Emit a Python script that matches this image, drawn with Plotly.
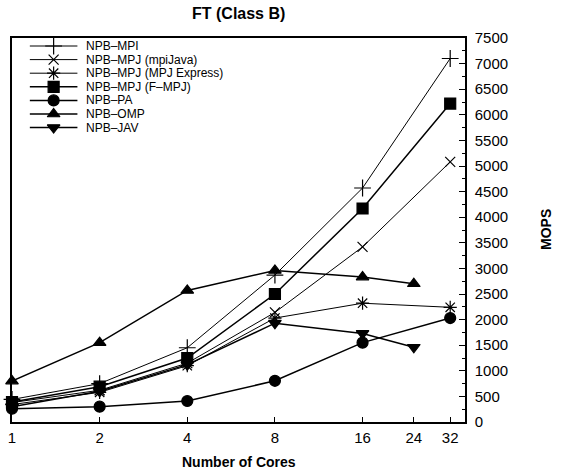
import plotly.graph_objects as go

# Core counts and MOPS per implementation (FT, Class B)
cores = [1, 2, 4, 8, 16, 32]
cores_omp_jav = [1, 2, 4, 8, 16, 24]

mops_mpi = [440, 750, 1450, 2870, 4570, 7100]
mops_mpijava = [380, 620, 1150, 2140, 3420, 5080]
mops_mpjexpress = [340, 580, 1100, 2030, 2320, 2240]
mops_fmpj = [390, 690, 1250, 2500, 4170, 6220]
mops_pa = [260, 300, 410, 805, 1550, 2030]
mops_omp = [800, 1550, 2570, 2960, 2830, 2700]
mops_jav = [300, 600, 1120, 1930, 1730, 1460]

x_ticks = [1, 2, 4, 8, 16, 24, 32]
y_ticks = list(range(0, 7501, 500))

FONT = "Liberation Sans, Arial, Helvetica, sans-serif"

series = [
    ("NPB\u2013MPI", cores, mops_mpi, "cross-thin", 12, 1.0),
    ("NPB\u2013MPJ (mpiJava)", cores, mops_mpijava, "x-thin", 10, 1.0),
    ("NPB\u2013MPJ (MPJ Express)", cores, mops_mpjexpress, "asterisk", 11, 1.0),
    ("NPB\u2013MPJ (F\u2013MPJ)", cores, mops_fmpj, "square", 11, 1.5),
    ("NPB\u2013PA", cores, mops_pa, "circle", 11, 1.5),
    ("NPB\u2013OMP", cores_omp_jav, mops_omp, "triangle-up", 11, 1.5),
    ("NPB\u2013JAV", cores_omp_jav, mops_jav, "triangle-down", 11, 1.5),
]

fig = go.Figure()

for name, xs, ys, sym, size, lw in series:
    fig.add_trace(go.Scatter(
        x=xs, y=ys, mode="lines+markers", name=name, showlegend=False,
        line=dict(color="black", width=lw),
        marker=dict(symbol=sym, size=size, color="black",
                    line=dict(color="black", width=1.2)),
        cliponaxis=False,
    ))

# Key drawn on an overlay axis measured in figure pixels
key_x0, key_x1, key_mark, key_text = 26, 74, 50, 81
key_top, key_step = 46, 13.6
for i, (name, xs, ys, sym, size, lw) in enumerate(series):
    ky = key_top + i * key_step
    fig.add_trace(go.Scatter(
        x=[key_x0, key_x1], y=[ky, ky], mode="lines", showlegend=False,
        line=dict(color="black", width=lw), xaxis="x2", yaxis="y2",
        hoverinfo="skip",
    ))
    fig.add_trace(go.Scatter(
        x=[key_mark], y=[ky], mode="markers", showlegend=False,
        marker=dict(symbol=sym, size=size, color="black",
                    line=dict(color="black", width=1.2)),
        xaxis="x2", yaxis="y2", hoverinfo="skip",
    ))
    fig.add_annotation(
        x=key_text, y=ky, xref="x2", yref="y2", text=name, showarrow=False,
        xanchor="left", yanchor="middle",
        font=dict(family=FONT, size=12, color="black"),
    )

fig.update_layout(
    width=563, height=470,
    margin=dict(l=8, r=98, t=38, b=48),
    paper_bgcolor="white", plot_bgcolor="white",
    font=dict(family=FONT, size=15, color="black"),
    showlegend=False,
    xaxis=dict(
        type="log", range=[0, 1.556], tickvals=x_ticks,
        ticktext=[str(v) for v in x_ticks],
        ticks="inside", ticklen=5, tickcolor="black", tickwidth=1,
        showline=True, linecolor="black", linewidth=1.5, mirror=True,
        showgrid=False, zeroline=False, ticklabelstandoff=1,
    ),
    yaxis=dict(
        side="right", range=[0, 7500], tickvals=y_ticks,
        ticks="inside", ticklen=6, tickcolor="black", tickwidth=1,
        minor=dict(dtick=250, ticks="inside", ticklen=3, tickcolor="black"),
        showline=True, linecolor="black", linewidth=1.5, mirror=True,
        showgrid=False, zeroline=False, ticklabelstandoff=5,
    ),
    xaxis2=dict(overlaying="x", range=[8, 465], visible=False, fixedrange=True),
    yaxis2=dict(overlaying="y", range=[422, 38], visible=False, fixedrange=True),
    annotations=list(fig.layout.annotations) + [
        dict(text="<b>FT (Class B)</b>", x=0.5, y=1, xref="paper", yref="paper",
             yshift=35, showarrow=False, font=dict(family=FONT, size=16)),
        dict(text="<b>Number of Cores</b>", x=0.5, y=0, xref="paper", yref="paper",
             yshift=-50, showarrow=False, font=dict(family=FONT, size=14)),
        dict(text="<b>MOPS</b>", x=1, y=0.5, xref="paper", yref="paper",
             xshift=91, textangle=-90, showarrow=False, font=dict(family=FONT, size=14)),
    ],
)

fig.write_html("out.html")
